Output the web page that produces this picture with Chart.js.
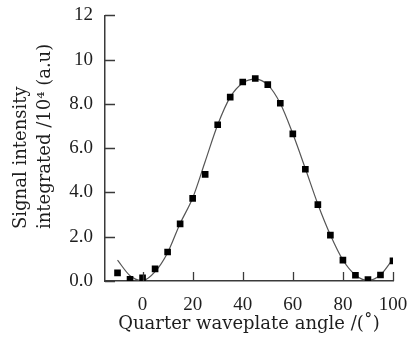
<!DOCTYPE html>
<html>
<head>
<meta charset="utf-8">
<script src="https://cdn.jsdelivr.net/npm/chart.js@4"></script>
<style>
  html, body { margin: 0; padding: 0; background: #fff; }
  #wrap { width: 416px; height: 338px; }
</style>
</head>
<body>
<div id="wrap"><canvas id="chart"></canvas></div>
<script>
// measured points
const angles = [-10, -5, 0, 5, 10, 15, 20, 25, 30, 35, 40, 45, 50, 55, 60, 65, 70, 75, 80, 85, 90, 95, 100];
const intensity = [0.37, 0.08, 0.14, 0.55, 1.31, 2.58, 3.73, 4.82, 7.06, 8.31, 8.99, 9.15, 8.87, 8.03, 6.65, 5.05, 3.45, 2.07, 0.94, 0.26, 0.06, 0.27, 0.91];

// fitted curve
const fitAngles = [-10, -5, 0, 5, 10, 15, 20, 25, 30, 35, 40, 45, 50, 55, 60, 65, 70, 75, 80, 85, 90, 95, 100];
const fitIntensity = [0.94, 0.24, 0.02, 0.42, 1.28, 2.6, 3.75, 5.4, 7.06, 8.31, 8.95, 9.12, 8.86, 8.02, 6.65, 5.08, 3.47, 2.08, 0.95, 0.27, 0.02, 0.28, 1.0];

const xTicks = [0, 20, 40, 60, 80, 100];
const yTicks = [0, 2, 4, 6, 8, 10, 12];
const yTickLabels = ['0.0', '2.0', '4.0', '6.0', '8.0', '10', '12'];

const xTitle = 'Quarter waveplate angle /(\u02DA)';
const yTitleLines = ['Signal intensity', 'integrated /10\u2074 (a.u)'];

const axisColor = '#3a3a3a';
const textColor = '#1e1e1e';

// ticks point inward, and the y title is start-aligned
const axisExtras = {
  id: 'axisExtras',
  afterDraw(chart) {
    const ctx = chart.ctx;
    const xs = chart.scales.x, ys = chart.scales.y;
    const area = chart.chartArea;
    ctx.save();
    ctx.strokeStyle = axisColor;
    ctx.lineWidth = 1.3;
    ctx.beginPath();
    xTicks.forEach(v => {
      const px = Math.round(xs.getPixelForValue(v)) + 0.5;
      ctx.moveTo(px, area.bottom);
      ctx.lineTo(px, area.bottom - 9);
    });
    yTicks.forEach(v => {
      const py = Math.round(ys.getPixelForValue(v)) + 0.5;
      ctx.moveTo(area.left, py);
      ctx.lineTo(area.left + 10, py);
    });
    ctx.stroke();

    ctx.fillStyle = textColor;
    ctx.font = '18px "DejaVu Serif"';
    ctx.textAlign = 'left';
    ctx.textBaseline = 'middle';
    [21, 45].forEach((x, i) => {
      ctx.save();
      ctx.translate(x, 229);
      ctx.rotate(-Math.PI / 2);
      ctx.fillText(yTitleLines[i], 0, 0);
      ctx.restore();
    });
    ctx.restore();
  }
};

new Chart(document.getElementById('chart'), {
  type: 'scatter',
  data: {
    datasets: [{
      type: 'line',
      label: 'fit',
      data: fitAngles.map((a, i) => ({x: a, y: fitIntensity[i]})),
      borderColor: '#555',
      borderWidth: 1.2,
      pointRadius: 0,
      fill: false,
      cubicInterpolationMode: 'monotone',
      order: 2
    }, {
      label: 'measured',
      data: angles.map((a, i) => ({x: a, y: intensity[i]})),
      pointStyle: 'rect',
      pointRadius: 4.7,
      backgroundColor: '#000',
      borderColor: '#000',
      borderWidth: 0,
      order: 1
    }]
  },
  options: {
    responsive: true,
    maintainAspectRatio: false,
    animation: false,
    events: [],
    layout: { padding: { top: 14, right: 23, left: 0, bottom: 0 } },
    plugins: { legend: { display: false }, tooltip: { enabled: false } },
    scales: {
      x: {
        type: 'linear',
        min: -15,
        max: 100,
        afterBuildTicks: s => { s.ticks = xTicks.map(v => ({value: v})); },
        afterFit: s => { s.height = 57; },
        grid: { display: false },
        border: { display: true, color: axisColor, width: 1.5 },
        ticks: {
          color: textColor,
          font: { family: '"Liberation Serif"', size: 19 },
          padding: 5,
          maxRotation: 0
        },
        title: {
          display: true,
          text: xTitle,
          color: textColor,
          font: { family: '"DejaVu Serif"', size: 18 },
          padding: { top: 0, bottom: 3 }
        }
      },
      y: {
        min: 0,
        max: 12,
        afterBuildTicks: s => { s.ticks = yTicks.map(v => ({value: v})); },
        afterFit: s => { s.width = 105; },
        grid: { display: false },
        border: { display: true, color: axisColor, width: 1.5 },
        ticks: {
          color: textColor,
          font: { family: '"Liberation Serif"', size: 19 },
          padding: 4,
          callback: (v) => yTickLabels[yTicks.indexOf(v)]
        }
      }
    }
  },
  plugins: [axisExtras]
});
</script>
</body>
</html>
